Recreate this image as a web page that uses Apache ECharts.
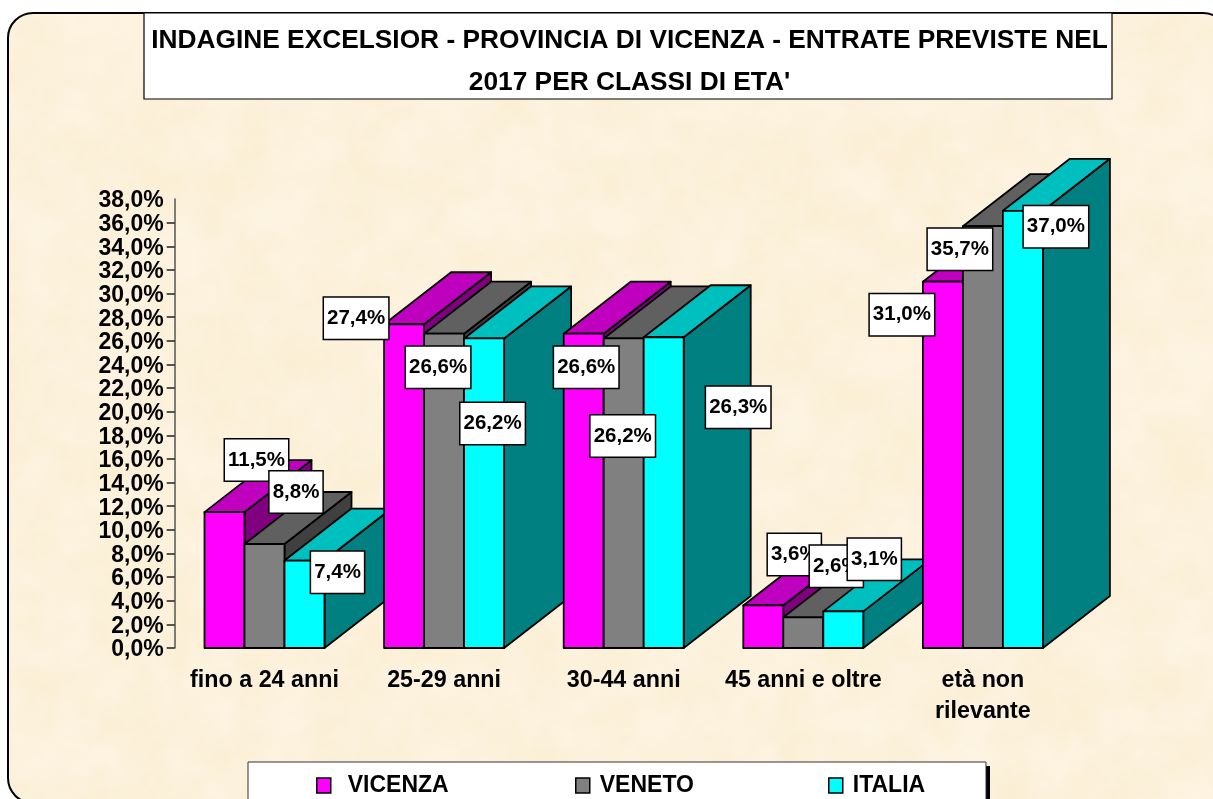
<!DOCTYPE html>
<html><head><meta charset="utf-8">
<style>html,body{margin:0;padding:0;background:#fff}#c{width:1213px;height:799px}</style>
<script src="https://cdn.jsdelivr.net/npm/echarts@6/dist/echarts.min.js"></script>
</head><body><div id="c"></div>
<script>
const titleLines = ["INDAGINE EXCELSIOR - PROVINCIA DI VICENZA - ENTRATE PREVISTE NEL", "2017 PER CLASSI DI ETA'"];
const categories = ["fino a 24 anni", "25-29 anni", "30-44 anni", "45 anni e oltre", "età non\nrilevante"];
const vicenza = [11.5, 27.4, 26.6, 3.6, 31.0];
const veneto = [8.8, 26.6, 26.2, 2.6, 35.7];
const italia = [7.4, 26.2, 26.3, 3.1, 37.0];
const seriesNames = ["VICENZA", "VENETO", "ITALIA"];
const yTicks = [0,2,4,6,8,10,12,14,16,18,20,22,24,26,28,30,32,34,36];

// look: front / top / side shades per series
const shades = [["#FF00FF","#BF00BF","#800080"],["#808080","#606060","#404040"],["#00FFFF","#00BFBF","#008080"]];
// manual placement of the data-label boxes, relative to the front-top centre of each bar
const labelOffsets = [
 [[32,-52],[-48,-6],[2.5,33.5],[31,-51],[-41,33]],
 [[31.5,-52],[-6,33.5],[-1,97.6],[33,-51],[-23,23]],
 [[33,11.7],[8.5,85],[74.5,70],[31,-52],[33,16]]
];
// legend entries sit at the reference's uneven spacing
const legendLefts = [316, 575, 828];
const legendTextPad = [12, 5, 5];
const BAR_W = 40, DX = 67, DY = 52;
const FONT = '"Liberation Sans", Arial, sans-serif';

function paperTexture(){
  const w=304,h=200,cv=document.createElement('canvas');cv.width=w;cv.height=h;
  const ctx=cv.getContext('2d'),img=ctx.createImageData(w,h);
  const hash=(x,y)=>{const s=Math.sin(x*127.1+y*311.7)*43758.5453;return s-Math.floor(s);};
  const sm=t=>t*t*(3-2*t);
  const noise=(x,y)=>{const xi=Math.floor(x),yi=Math.floor(y),f=sm(x-xi),g=sm(y-yi);
    const a=hash(xi,yi),b=hash(xi+1,yi),c=hash(xi,yi+1),d=hash(xi+1,yi+1);
    return a+(b-a)*f+(c-a)*g+(a-b-c+d)*f*g;};
  for(let y=0;y<h;y++)for(let x=0;x<w;x++){
    const n=0.5*noise(x/9,y/9)+0.3*noise(x/4,y/4)+0.2*noise(x/2,y/2);
    const t=(n-0.5)*1.5,i=(y*w+x)*4;
    img.data[i]=252+t*3;img.data[i+1]=241+t*5;img.data[i+2]=219+t*13;img.data[i+3]=255;
  }
  ctx.putImageData(img,0,0);
  const out=document.createElement('canvas');out.width=1216;out.height=800;
  const o=out.getContext('2d');o.imageSmoothingEnabled=true;o.imageSmoothingQuality='high';o.drawImage(cv,0,0,1216,800);
  return out;
}

function makeSeries(name, values, si){
  return {
    type:'custom', name, coordinateSystem:'cartesian2d',
    itemStyle:{color:shades[si][0]},
    encode:{x:0,y:1},
    data:values.map((v,i)=>[i,v]),
    renderItem(params,api){
      const ci=api.value(0), v=api.value(1);
      const base=api.coord([ci,0]), top=api.coord([ci,v]);
      const x0=base[0]+(si-1.5)*BAR_W, x1=x0+BAR_W, yT=top[1], yB=base[1];
      const sty=(f)=>({fill:f,stroke:'#000',lineWidth:1.8,lineJoin:'round'});
      const z=ci*10+si;
      const off=labelOffsets[si][ci];
      const cx=(x0+x1)/2+off[0], cy=yT+off[1];
      return {type:'group',children:[
        {type:'polygon',z2:z,shape:{points:[[x1,yB],[x1+DX,yB-DY],[x1+DX,yT-DY],[x1,yT]]},style:sty(shades[si][2])},
        {type:'polygon',z2:z,shape:{points:[[x0,yT],[x0+DX,yT-DY],[x1+DX,yT-DY],[x1,yT]]},style:sty(shades[si][1])},
        {type:'rect',z2:z,shape:{x:x0,y:yT,width:BAR_W,height:yB-yT},style:sty(shades[si][0])},
        {type:'text',z2:1000+ci*10+si,style:{x:cx,y:cy,text:v.toFixed(1).replace('.',',')+'%',
          fill:'#000',font:'bold 20.5px '+FONT,align:'center',verticalAlign:'middle',
          backgroundColor:'#fff',borderColor:'#000',borderWidth:1.5,padding:[10,3,10,3]}}
      ]};
    }
  };
}

const chart=echarts.init(document.getElementById('c'),null,{renderer:'canvas',width:1213,height:799});
chart.setOption({
  animation:false,
  backgroundColor:'#fff',
  title:{text:titleLines.join('\n'),left:624.5,top:15,textAlign:'center',
    textStyle:{fontFamily:FONT,fontWeight:'bold',fontSize:26.3,lineHeight:42,color:'#000'}},
  grid:{left:174.7,top:199,width:898,height:449,containLabel:false},
  legend:seriesNames.map((n,i)=>({left:legendLefts[i],top:774,padding:0,itemWidth:14,itemHeight:15,icon:'rect',
    data:[n],
    itemStyle:{borderColor:'#000',borderWidth:1.5},
    textStyle:{fontFamily:FONT,fontWeight:'bold',fontSize:23,color:'#000',padding:[0,0,0,legendTextPad[i]]}})),
  xAxis:{type:'category',data:categories,axisLine:{show:false},axisTick:{show:false},
    axisLabel:{margin:17,fontFamily:FONT,fontWeight:'bold',fontSize:23.3,lineHeight:31,color:'#000',interval:0}},
  yAxis:{type:'value',min:0,max:38,interval:2,splitLine:{show:false},
    axisLine:{show:true,lineStyle:{color:'#555',width:1.5}},
    axisTick:{show:true,length:8,customValues:yTicks,lineStyle:{color:'#222',width:1.5}},
    axisLabel:{margin:11,fontFamily:FONT,fontWeight:'bold',fontSize:23,color:'#000',
      formatter:v=>'{a|'+v.toFixed(1).replace('.',',')+'%}',
      rich:{a:{fontFamily:FONT,fontWeight:'bold',fontSize:23,color:'#000',padding:[4,0,0,0]}}}},
  graphic:{elements:[
    {type:'rect',z:-10,silent:true,shape:{x:8,y:13,width:1220,height:790,r:25},
      style:{fill:{image:paperTexture(),repeat:'no-repeat'},stroke:'#000',lineWidth:2}},
    {type:'rect',z:1,silent:true,shape:{x:144,y:13,width:968,height:86},style:{fill:'#fff',stroke:'#000',lineWidth:1.2}},
    {type:'rect',z:0,silent:true,shape:{x:253,y:766,width:737,height:44},style:{fill:'#000'}},
    {type:'rect',z:1,silent:true,shape:{x:248,y:762,width:738,height:50},style:{fill:'#fff',stroke:'#333',lineWidth:1}}
  ]},
  series:[makeSeries(seriesNames[0],vicenza,0),makeSeries(seriesNames[1],veneto,1),makeSeries(seriesNames[2],italia,2)]
});
</script></body></html>
